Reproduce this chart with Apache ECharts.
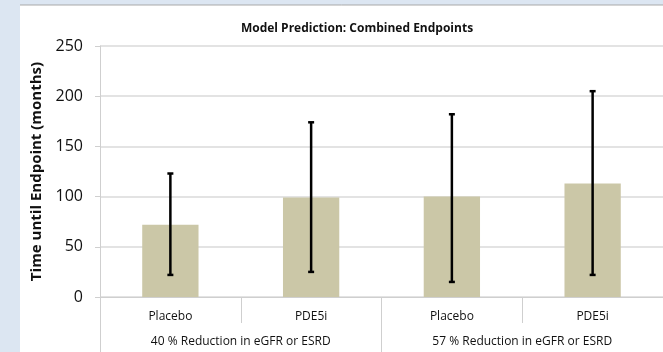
<!DOCTYPE html>
<html>
<head>
<meta charset="utf-8">
<script src="https://cdn.jsdelivr.net/npm/echarts@6/dist/echarts.min.js"></script>
<style>
html,body{margin:0;padding:0;background:#dce6f2;}
#chart{width:663px;height:352px;}
</style>
</head>
<body>
<div id="chart"></div>
<script>
var categories = ['Placebo', 'PDE5i', 'Placebo', 'PDE5i'];
var groups = ['40 % Reduction in eGFR or ESRD', '57 % Reduction in eGFR or ESRD'];
var meanValues = [72, 99, 100, 113];
var lowerValues = [22, 25, 15, 22];
var upperValues = [123, 174, 182, 205];
var yTicks = { min: 0, max: 250, interval: 50 };

var chart = echarts.init(document.getElementById('chart'), null, { renderer: 'canvas' });
var font = '"Open Sans", "Liberation Sans", sans-serif';
var errData = categories.map(function (c, i) { return [i, lowerValues[i], upperValues[i]]; });

chart.setOption({
  animation: false,
  backgroundColor: 'transparent',
  graphic: [
    { type: 'rect', left: 20, top: 5, shape: { width: 643, height: 347 }, style: { fill: '#ffffff' }, z: -10 },
    { type: 'line', shape: { x1: 20, y1: 5, x2: 663, y2: 5 }, style: { stroke: '#a9a9a9', lineWidth: 1 }, z: -9 }
  ],
  title: {
    text: 'Model Prediction: Combined Endpoints',
    left: 352, top: 18, textAlign: 'center',
    textStyle: { fontFamily: font, fontSize: 12, fontWeight: 'bold', color: '#111' }
  },
  grid: { left: 100, right: -5, top: 46, bottom: 55, containLabel: false },
  xAxis: [
    {
      type: 'category', data: categories, position: 'bottom',
      axisLine: { show: true, lineStyle: { color: '#cfcfcf', width: 1 } },
      axisTick: { show: true, length: 26, lineStyle: { color: '#cfcfcf' } },
      axisLabel: { margin: 14, fontFamily: font, fontSize: 12, color: '#111' },
      splitLine: { show: false }
    },
    {
      type: 'category', data: groups, position: 'bottom',
      axisLine: { show: false },
      axisTick: { show: true, length: 55, lineStyle: { color: '#cfcfcf' } },
      axisLabel: { margin: 39, fontFamily: font, fontSize: 12, color: '#111' },
      splitLine: { show: false }
    }
  ],
  yAxis: {
    type: 'value', min: yTicks.min, max: yTicks.max, interval: yTicks.interval,
    name: 'Time until Endpoint (months)', nameLocation: 'middle', nameGap: 56, nameRotate: 90,
    nameTextStyle: { fontFamily: font, fontSize: 15, fontWeight: 'bold', color: '#111' },
    axisLine: { show: true, lineStyle: { color: '#cfcfcf' } },
    axisTick: { show: true, length: 5, lineStyle: { color: '#cfcfcf' } },
    axisLabel: { margin: 17, fontFamily: font, fontSize: 16, color: '#111' },
    splitLine: { show: true, lineStyle: { color: '#dadada', width: 1.5 } }
  },
  series: [
    {
      type: 'bar', data: meanValues, barWidth: '40%',
      itemStyle: { color: '#cbc7a7' }, z: 2
    },
    {
      type: 'custom', data: errData, z: 5,
      renderItem: function (params, api) {
        var x = api.value(0);
        var lo = api.coord([x, api.value(1)]);
        var hi = api.coord([x, api.value(2)]);
        var cap = 3;
        var st = { stroke: '#000', lineWidth: 2.5 };
        return {
          type: 'group',
          children: [
            { type: 'line', shape: { x1: lo[0], y1: lo[1], x2: hi[0], y2: hi[1] }, style: st },
            { type: 'line', shape: { x1: hi[0] - cap, y1: hi[1], x2: hi[0] + cap, y2: hi[1] }, style: st },
            { type: 'line', shape: { x1: lo[0] - cap, y1: lo[1], x2: lo[0] + cap, y2: lo[1] }, style: st }
          ]
        };
      }
    }
  ]
});
</script>
</body>
</html>
